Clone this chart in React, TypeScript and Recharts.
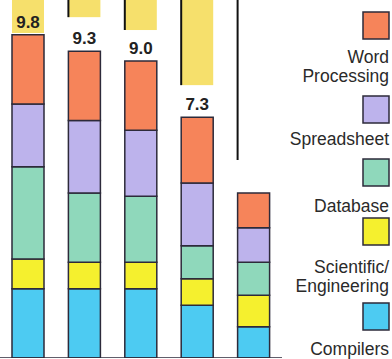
import { BarChart, Bar, XAxis, YAxis, LabelList, ReferenceLine } from 'recharts';

// five machines, stacked benchmark scores (no category names shown in the picture)
const CATEGORIES = ['A', 'B', 'C', 'D', 'E'];

const COMPILERS = [2.1, 2.1, 2.1, 1.6, 0.95];
const SCIENTIFIC = [0.9, 0.8, 0.8, 0.8, 0.95];
const DATABASE = [2.8, 2.1, 2.0, 1.0, 1.0];
const SPREADSHEET = [1.9, 2.2, 2.0, 1.9, 1.05];
const WORD = [2.1, 2.1, 2.1, 2.0, 1.05];

const TOTAL_LABELS = ['9.8', '9.3', '9.0', '7.3', ''];

// bottoms of the bars from the chart printed above (cropped off)
const UPPER_DEPTH = [1.0, 0.52, 0.91, 2.58, 4.85];

const SERIES = [
    { key: 'compilers', name: 'Compilers', color: '#4dcbf2' },
    { key: 'scientific', name: 'Scientific/\nEngineering', color: '#f5f02e' },
    { key: 'database', name: 'Database', color: '#8fd8bb' },
    { key: 'spreadsheet', name: 'Spreadsheet', color: '#bdb3ec' },
    { key: 'word', name: 'Word\nProcessing', color: '#f6845a' },
];

const OUTLINE = '#2d2a3a';
const FONT = '"Liberation Sans", Arial, Helvetica, sans-serif';
const CHART_W = 282;
const CHART_H = 358;
const Y_MAX = 10.85;

const UPPER_FILLS = ['#f6e06c', '#f6e06c', '#f6e06c', '#f6e06c', 'none'];
const UPPER_EDGE = [false, true, true, true, true];

// legend, top to bottom (swatch top, first text baseline)
const LEGEND_ORDER = ['word', 'spreadsheet', 'database', 'scientific', 'compilers'];
const LEGEND_SWATCH_Y = [12, 96, 159, 218, 303];
const LEGEND_BASELINE = [63, 145, 212, 273, 355];

const data = CATEGORIES.map((name, i) => ({
    name,
    compilers: COMPILERS[i],
    scientific: SCIENTIFIC[i],
    database: DATABASE[i],
    spreadsheet: SPREADSHEET[i],
    word: WORD[i],
    label: TOTAL_LABELS[i],
}));

const upperData = CATEGORIES.map((name, i) => ({ name, depth: UPPER_DEPTH[i] }));

const HangingBar = (props: any) => {
    const { x, y, width, height, index } = props;
    const top = Math.min(y, y + height);
    const h = Math.abs(height);
    return (
        <g>
            {UPPER_FILLS[index] !== 'none' && (
                <rect x={x} y={top} width={width} height={h} fill={UPPER_FILLS[index]} />
            )}
            {UPPER_EDGE[index] && <line x1={x} y1={top} x2={x} y2={top + h} stroke="#111" strokeWidth={2} />}
        </g>
    );
};

const Legend = () => (
    <svg width={392} height={359} style={{ position: 'absolute', left: 0, top: 0 }}>
        {LEGEND_ORDER.map((key, i) => {
            const s = SERIES.find(d => d.key === key)!;
            const lines = s.name.split('\n');
            return (
                <g key={key}>
                    <rect x={363} y={LEGEND_SWATCH_Y[i]} width={26} height={27} fill={s.color} stroke={OUTLINE} strokeWidth={1.5} />
                    {lines.map((line, j) => (
                        <text
                            key={j}
                            x={389}
                            y={LEGEND_BASELINE[i] + j * 19}
                            textAnchor="end"
                            fontFamily={FONT}
                            fontSize={17.5}
                            fill="#2a2a2a"
                        >
                            {line}
                        </text>
                    ))}
                </g>
            );
        })}
    </svg>
);

export default function App() {
    return (
        <div style={{ position: 'fixed', left: 0, top: 0, width: 392, height: 359, background: '#fff', overflow: 'hidden' }}>
            {/* hanging bars from the chart above */}
            <div style={{ position: 'absolute', left: 0, top: 0 }}>
                <BarChart width={CHART_W} height={CHART_H} data={upperData} margin={{ top: 0, right: 0, bottom: 0, left: 0 }}>
                    <XAxis dataKey="name" hide />
                    <YAxis hide reversed domain={[0, Y_MAX]} />
                    <Bar dataKey="depth" barSize={32} shape={<HangingBar />} isAnimationActive={false} />
                </BarChart>
            </div>

            <div style={{ position: 'absolute', left: 0, top: 0 }}>
                <BarChart width={CHART_W} height={CHART_H} data={data} margin={{ top: 0, right: 0, bottom: 0, left: 0 }}>
                    <XAxis dataKey="name" hide />
                    <YAxis hide domain={[0, Y_MAX]} />
                    {SERIES.map((s, i) => (
                        <Bar
                            key={s.key}
                            dataKey={s.key}
                            stackId="a"
                            barSize={32}
                            fill={s.color}
                            stroke={OUTLINE}
                            strokeWidth={1.5}
                            isAnimationActive={false}
                        >
                            {i === SERIES.length - 1 && (
                                <LabelList
                                    dataKey="label"
                                    position="top"
                                    offset={7}
                                    fill="#222"
                                    fontFamily={FONT}
                                    fontSize={17}
                                    fontWeight="bold"
                                />
                            )}
                        </Bar>
                    ))}
                    <ReferenceLine y={0} stroke={OUTLINE} strokeWidth={1.5} />
                </BarChart>
            </div>

            <Legend />
        </div>
    );
}
